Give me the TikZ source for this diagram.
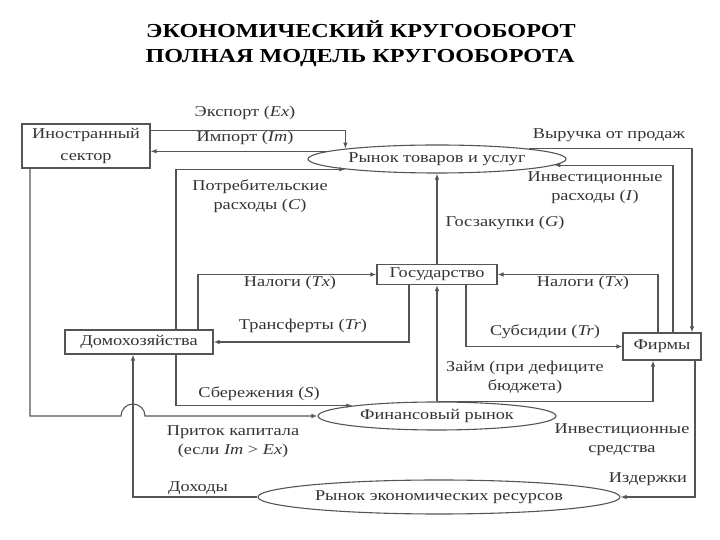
\documentclass[tikz,border=0pt]{standalone}
\usepackage{fontspec}
\setmainfont{Liberation Serif}[FakeStretch=1.22]
\usetikzlibrary{arrows.meta,shapes.geometric}
\definecolor{linegray}{HTML}{555555}
\definecolor{textgray}{HTML}{333333}

\begin{document}
\begin{tikzpicture}[
      x=1pt, y=1pt,
      font=\fontsize{15}{19}\selectfont,
      line width=1.1pt,
      color=linegray, text=textgray,
      flow/.style={-{Latex[length=6pt,width=4.5pt]}},
      box/.style={draw, rectangle, inner sep=1pt, align=center},
      market/.style={draw, ellipse, inner xsep=-30pt, inner ysep=0pt},
      lbl/.style={align=center},
      heading/.style={font=\rmfamily\bfseries\fontsize{19.8}{27}\selectfont, text=black, anchor=base}
    ]
      \useasboundingbox (0,0) rectangle (720,540);

      % Title
      \node[heading] (title1) at (361,502) {ЭКОНОМИЧЕСКИЙ КРУГООБОРОТ};
      \node[heading] (title2) at (360,477) {ПОЛНАЯ МОДЕЛЬ КРУГООБОРОТА};

      % Sectors and markets
      \node[box, minimum width=128pt, minimum height=44pt]
        (foreign) at (86,394) {Иностранный\\[3pt]сектор};
      \node[market, minimum width=258pt, minimum height=28pt]
        (goods) at (437,381) {Рынок товаров и услуг};
      \node[box, minimum width=120pt, minimum height=20pt]
        (gov) at (437,265.5) {Государство};
      \node[box, minimum width=148pt, minimum height=24pt]
        (house) at (139,198) {Домохозяйства};
      \node[box, minimum width=78pt, minimum height=27pt]
        (firms) at (662,193.5) {Фирмы};
      \node[market, minimum width=238pt, minimum height=28pt]
        (fin) at (437,124) {Финансовый рынок};
      \node[market, minimum width=362pt, minimum height=34pt]
        (res) at (439,43) {Рынок экономических ресурсов};

      % Goods market flows
      \draw[flow] ([yshift=-7pt]foreign.north east) -| (goods.north west);
      \draw[flow] (goods.176) -- (goods.176 -| foreign.east);
      \draw[flow] ([xshift=37pt]house.north) |- (goods.south west);
      \draw[flow] ([xshift=11pt]firms.north) |- (goods.-3);
      \draw[flow] (goods.north east) -| ([xshift=30pt]firms.north);
      \draw[flow] (gov.north) -- (goods.south);

      % State flows
      \draw[flow] ([xshift=59pt]house.north) |- (gov.west);
      \draw[flow] ([xshift=-28pt]gov.south) |- (house.east);
      \draw[flow] ([xshift=-4pt]firms.north) |- (gov.east);
      \draw[flow] ([xshift=29pt]gov.south) |- (firms.west);

      % Financial market flows
      \draw[flow] (fin.north) -- (gov.south);
      \draw[flow] ([xshift=37pt]house.south) |- (fin.north west);
      \draw[flow] (fin.north) -| ([xshift=-9pt]firms.south);
      \coordinate (hop) at ([xshift=-6pt]house.south |- fin.west);
      \draw[flow] ([xshift=-56pt]foreign.south) |- ([xshift=-12pt]hop)
        arc[start angle=180, end angle=0, radius=12pt] -- (fin.west);

      % Resource market flows
      \draw[flow] (res.west) -| ([xshift=-6pt]house.south);
      \draw[flow] ([xshift=33pt]firms.south) |- (res.east);

      % Labels
      \node[lbl] (lexport) at (245,427) {Экспорт (\textit{Ex})};
      \node[lbl] (limport) at (245,402) {Импорт (\textit{Im})};
      \node[lbl] (lcons) at (260,344) {Потребительские\\расходы (\textit{C})};
      \node[lbl] (lrev) at (609,405) {Выручка от продаж};
      \node[lbl] (linv) at (595,352) {Инвестиционные\\расходы (\textit{I})};
      \node[lbl] (lpurch) at (505,317) {Госзакупки (\textit{G})};
      \node[lbl] (ltaxh) at (290,257) {Налоги (\textit{Tx})};
      \node[lbl] (ltaxf) at (583,257) {Налоги (\textit{Tx})};
      \node[lbl] (ltrans) at (303,214) {Трансферты (\textit{Tr})};
      \node[lbl] (lsubs) at (545,208) {Субсидии (\textit{Tr})};
      \node[lbl] (lloan) at (525,163) {Займ (при дефиците\\бюджета)};
      \node[lbl] (lsave) at (259,146) {Сбережения (\textit{S})};
      \node[lbl] (linflow) at (233,98) {Приток капитала\\(если \textit{Im} > \textit{Ex})};
      \node[lbl] (lfunds) at (622,100) {Инвестиционные\\средства};
      \node[lbl] (lincome) at (198,52) {Доходы};
      \node[lbl] (lcosts) at (648,61) {Издержки};
    \end{tikzpicture}
\end{document}
